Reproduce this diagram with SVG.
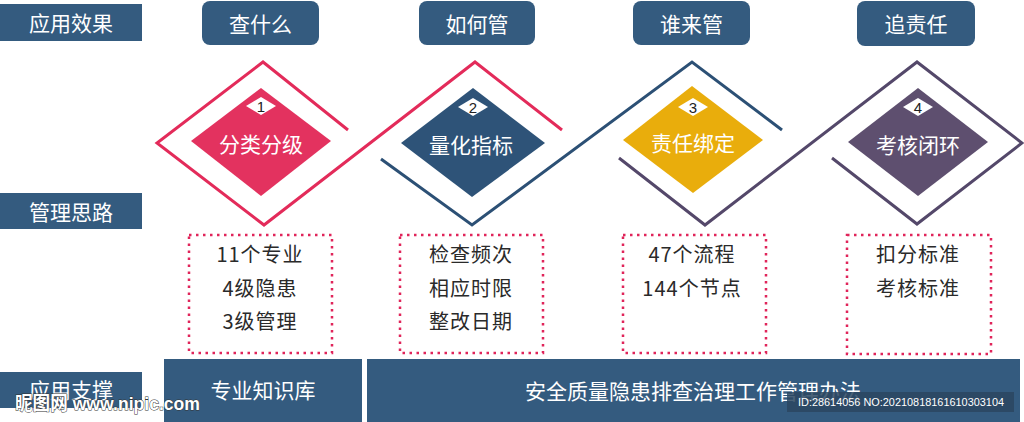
<svg xmlns="http://www.w3.org/2000/svg" width="1024" height="422" viewBox="0 0 1024 422">
<style>
.box{fill:#345b7f}
.wt{fill:#fff;font-family:"Noto Sans CJK SC","Noto Sans",sans-serif;font-size:21px;text-anchor:middle;dominant-baseline:central}
.dk{fill:#2a2a2a;font-family:"Noto Sans CJK SC","Noto Sans",sans-serif;font-size:20px;text-anchor:middle;dominant-baseline:central;letter-spacing:1px}
.num{fill:#222;font-family:"Liberation Sans",sans-serif;font-size:15px;text-anchor:middle;dominant-baseline:central}
.dash{fill:none;stroke:#e0245a;stroke-width:2.5;stroke-dasharray:2.5 4.5}
.ln{fill:none;stroke-width:3;stroke-linejoin:miter}
</style>
<rect width="1024" height="422" fill="#fff"/>
<g id="labels">
<g id="label-effect"><rect class="box" x="0" y="4" width="142" height="37"/><text class="wt" x="71" y="22">应用效果</text></g>
<g id="label-idea"><rect class="box" x="0" y="193" width="142" height="36"/><text class="wt" x="71" y="211">管理思路</text></g>
<g id="label-support"><rect class="box" x="0" y="372" width="142" height="36"/><text class="wt" x="71" y="389">应用支撑</text></g>
</g>
<g id="headers">
<g id="h1"><rect class="box" x="202" y="1" width="117" height="44" rx="8"/><text class="wt" x="260.5" y="23">查什么</text></g>
<g id="h2"><rect class="box" x="419" y="1" width="116" height="44" rx="8"/><text class="wt" x="477" y="23">如何管</text></g>
<g id="h3"><rect class="box" x="633" y="1" width="117" height="44" rx="8"/><text class="wt" x="691.5" y="23">谁来管</text></g>
<g id="h4"><rect class="box" x="857" y="1" width="118" height="45" rx="8"/><text class="wt" x="916" y="23">追责任</text></g>
</g>
<g id="connectors">
<polyline class="ln" stroke="#e32b5a" points="348,130 263,62 157,143 264,225 475,62 562,130"/>
<polyline class="ln" stroke="#2c5075" points="381,159 472,225 692,62 782,130"/>
<polyline class="ln" stroke="#54486a" points="619,158 705,225 917,62 1022,143 917,224 832,158"/>
</g>
<g id="node1">
<polygon points="261,88 331,141 261,196 191,141" fill="#e3325f"/>
<polygon points="261,97 276,106 261,115 246,106" fill="#fff"/>
<text class="num" x="261" y="106">1</text>
<text class="wt" x="261" y="143">分类分级</text>
</g>
<g id="node2">
<polygon points="473,88 545,143 472,197 401,143" fill="#2e5378"/>
<polygon points="473,98 488,107 473,116 458,107" fill="#fff"/>
<text class="num" x="473" y="107">2</text>
<text class="wt" x="471" y="144">量化指标</text>
</g>
<g id="node3">
<polygon points="692,86 763,140 693,193 623,140" fill="#e9ad0c"/>
<polygon points="693,98 708,107 693,116 678,107" fill="#fff"/>
<text class="num" x="693" y="107">3</text>
<text class="wt" x="693" y="142">责任绑定</text>
</g>
<g id="node4">
<polygon points="918,88 988,142 918,196 848,142" fill="#5e4f6f"/>
<polygon points="918,98 933,107 918,116 903,107" fill="#fff"/>
<text class="num" x="918" y="107">4</text>
<text class="wt" x="918" y="144">考核闭环</text>
</g>
<g id="detail1"><rect class="dash" x="189" y="235" width="143" height="118"/>
<text class="dk" x="260" y="253">11个专业</text><text class="dk" x="260" y="287">4级隐患</text><text class="dk" x="260" y="320">3级管理</text></g>
<g id="detail2"><rect class="dash" x="400" y="235" width="143" height="118"/>
<text class="dk" x="471" y="253">检查频次</text><text class="dk" x="471" y="287">相应时限</text><text class="dk" x="471" y="320">整改日期</text></g>
<g id="detail3"><rect class="dash" x="623" y="235" width="143" height="118"/>
<text class="dk" x="692" y="253">47个流程</text><text class="dk" x="692" y="287">144个节点</text></g>
<g id="detail4"><rect class="dash" x="847" y="235" width="144" height="119"/>
<text class="dk" x="918" y="253">扣分标准</text><text class="dk" x="918" y="287">考核标准</text></g>
<g id="support1"><rect class="box" x="164" y="359" width="198" height="63"/><text class="wt" x="263" y="389">专业知识库</text></g>
<g id="support2"><rect class="box" x="367" y="359" width="653" height="63"/><text class="wt" x="693" y="390">安全质量隐患排查治理工作管理办法</text></g>
<g id="watermark">
<text x="15" y="410" textLength="185" lengthAdjust="spacingAndGlyphs" style="font-family:'Liberation Sans','Noto Sans CJK SC',sans-serif;font-size:19px;font-weight:bold;fill:#fff;stroke:#333;stroke-width:1;paint-order:stroke">昵图网 www.nipic.com</text>
<rect x="787" y="392" width="227" height="20" fill="#2b4660" opacity="0.85"/>
<text x="798" y="406" textLength="206" lengthAdjust="spacingAndGlyphs" style="font-family:'Liberation Sans',sans-serif;font-size:11px;fill:#fff">ID:28614056 NO:20210818161610303104</text>
</g>
</svg>
